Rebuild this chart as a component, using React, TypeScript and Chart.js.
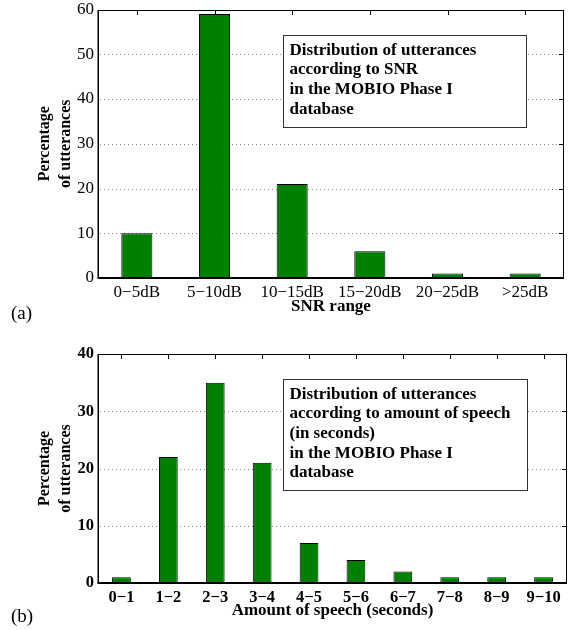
import React, { useEffect, useRef } from "react";
import { Chart, registerables } from "chart.js";

Chart.register(...registerables);

// ---------- data ----------
const snrCategories = ["0−5dB", "5−10dB", "10−15dB", "15−20dB", "20−25dB", ">25dB"];
const snrValues = [10, 59, 21, 6, 1, 1];
const snrTicks = [0, 10, 20, 30, 40, 50, 60];
const snrNote = ["Distribution of utterances", "according to SNR", "in the MOBIO Phase I", "database"];

const speechCategories = ["0−1", "1−2", "2−3", "3−4", "4−5", "5−6", "6−7", "7−8", "8−9", "9−10"];
const speechValues = [1, 22, 35, 21, 7, 4, 2, 1, 1, 1];
const speechTicks = [0, 10, 20, 30, 40];
const speechNote = [
  "Distribution of utterances",
  "according to amount of speech",
  "(in seconds)",
  "in the MOBIO Phase I",
  "database",
];

const FONT = "'Liberation Serif', 'Times New Roman', serif";
const GREEN = "#008000";

const framePlugin = {
  id: "frame",
  beforeDatasetsDraw(chart: any) {
    const { ctx, chartArea: a, scales } = chart;
    const ys = scales.y;
    const max = ys.max, min = ys.min;
    ctx.save();
    ctx.strokeStyle = "#8a8a8a";
    ctx.lineWidth = 1;
    ctx.setLineDash([1, 3]);
    ys.ticks.forEach((t: any, i: number) => {
      if (t.value === min || t.value === max) return;
      const py = Math.round(ys.getPixelForTick(i)) + 0.5;
      ctx.beginPath();
      ctx.moveTo(Math.round(a.left) + 2, py);
      ctx.lineTo(Math.round(a.right) - 1, py);
      ctx.stroke();
    });
    ctx.restore();
  },
  afterDatasetsDraw(chart: any) {
    const { ctx, chartArea: a, scales } = chart;
    const L = Math.round(a.left), R = Math.round(a.right), T = Math.round(a.top), B = Math.round(a.bottom);
    ctx.save();
    ctx.strokeStyle = "#000";
    ctx.lineWidth = 1;
    ctx.setLineDash([]);
    const xs = scales.x;
    xs.ticks.forEach((_t: any, i: number) => {
      const px = Math.round(xs.getPixelForTick(i)) + 0.5;
      ctx.beginPath();
      ctx.moveTo(px, T);
      ctx.lineTo(px, T + 5);
      ctx.stroke();
    });
    const ys = scales.y;
    ys.ticks.forEach((_t: any, i: number) => {
      const py = Math.round(ys.getPixelForTick(i)) + 0.5;
      ctx.beginPath();
      ctx.moveTo(R - 5, py);
      ctx.lineTo(R, py);
      ctx.stroke();
    });
    // frame
    ctx.beginPath();
    ctx.moveTo(L, T + 0.5);
    ctx.lineTo(R - 0.5, T + 0.5);
    ctx.lineTo(R - 0.5, B);
    ctx.stroke();
    ctx.lineWidth = 1.5;
    ctx.beginPath();
    ctx.moveTo(L + 0.25, T);
    ctx.lineTo(L + 0.25, B);
    ctx.stroke();
    ctx.lineWidth = 2;
    ctx.beginPath();
    ctx.moveTo(L - 0.5, B);
    ctx.lineTo(R, B);
    ctx.stroke();
    ctx.restore();
  },
  afterDraw(chart: any) {
    const note = chart.options.plugins.note;
    if (!note) return;
    const { ctx, chartArea: a } = chart;
    const x = Math.round(a.left + note.dx) + 0.5;
    const y = Math.round(a.top + note.dy) + 0.5;
    ctx.save();
    ctx.fillStyle = "#fff";
    ctx.fillRect(x, y, note.w, note.h);
    ctx.strokeStyle = "#333";
    ctx.lineWidth = 1;
    ctx.strokeRect(x, y, note.w, note.h);
    ctx.fillStyle = "#000";
    ctx.font = `bold 17px ${FONT}`;
    ctx.textBaseline = "middle";
    ctx.textAlign = "left";
    note.lines.forEach((ln: string, i: number) => {
      ctx.fillText(ln, x + 6, y + 15 + i * 19.6);
    });
    ctx.restore();
  },
};

type Spec = {
  labels: string[];
  values: number[];
  ticks: number[];
  note: string[];
  xTitle: string;
  bold: boolean;
  tickSize: number;
  height: number;
  padTop: number;
  padRight: number;
  padBottom: number;
  xAxisHeight: number;
  labelPad: number;
  noteBox: { dx: number; dy: number; w: number; h: number };
};

function BarPanel({ spec }: { spec: Spec }) {
  const ref = useRef<HTMLCanvasElement | null>(null);
  useEffect(() => {
    if (!ref.current) return;
    const max = spec.ticks[spec.ticks.length - 1];
    const tickFont = { family: FONT, size: spec.tickSize, weight: spec.bold ? "bold" : "normal" } as any;
    const chart = new Chart(ref.current, {
      type: "bar",
      data: {
        labels: spec.labels,
        datasets: [
          {
            data: spec.values,
            backgroundColor: GREEN,
            borderColor: "#000",
            borderWidth: 1,
            barPercentage: 0.4,
            categoryPercentage: 1,
          },
        ],
      },
      options: {
        animation: false,
        responsive: false,
        maintainAspectRatio: false,
        layout: { padding: { left: 0, right: spec.padRight, top: spec.padTop, bottom: spec.padBottom } },
        plugins: {
          legend: { display: false },
          tooltip: { enabled: false },
          note: { lines: spec.note, ...spec.noteBox },
        } as any,
        scales: {
          x: {
            grid: { display: false, drawTicks: false },
            border: { display: false },
            ticks: { color: "#000", font: tickFont, padding: spec.labelPad, maxRotation: 0, autoSkip: false },
            title: {
              display: true,
              text: spec.xTitle,
              color: "#000",
              font: { family: FONT, size: 17, weight: "bold", lineHeight: 1.2 } as any,
              padding: 0,
            },
            afterFit: (s: any) => {
              s.height = spec.xAxisHeight;
              s.paddingLeft = 0;
              s.paddingRight = 0;
            },
          },
          y: {
            min: 0,
            max,
            grid: { display: false, drawTicks: false },
            border: { display: false },
            ticks: { stepSize: 10, color: "#000", font: tickFont, padding: 4 },
            title: {
              display: true,
              text: ["Percentage", "of utterances"],
              color: "#000",
              font: { family: FONT, size: 16, weight: "bold", lineHeight: 1.3 } as any,
              padding: { top: 34.6, bottom: 0 },
            },
            afterFit: (s: any) => {
              s.width = 98;
              s.paddingTop = 0;
              s.paddingBottom = 0;
            },
          },
        },
      },
      plugins: [framePlugin],
    });
    return () => chart.destroy();
  }, [spec]);
  return <canvas ref={ref} width={570} height={spec.height} style={{ display: "block", width: 570, height: spec.height }} />;
}

const specA: Spec = {
  labels: snrCategories,
  values: snrValues,
  ticks: snrTicks,
  note: snrNote,
  xTitle: "SNR range",
  bold: false,
  tickSize: 17,
  height: 320,
  padTop: 9.5,
  padRight: 6,
  padBottom: 3,
  xAxisHeight: 39,
  labelPad: 4,
  noteBox: { dx: 185, dy: 25.5, w: 243, h: 92 },
};

const specB: Spec = {
  labels: speechCategories,
  values: speechValues,
  ticks: speechTicks,
  note: speechNote,
  xTitle: "Amount of speech (seconds)",
  bold: true,
  tickSize: 16.5,
  height: 310,
  padTop: 34,
  padRight: 3,
  padBottom: 9,
  xAxisHeight: 38,
  labelPad: 5,
  noteBox: { dx: 185, dy: 25, w: 244, h: 111 },
};

export default function App() {
  const lbl: React.CSSProperties = {
    position: "absolute",
    left: 11,
    fontFamily: FONT,
    fontSize: 19,
    lineHeight: "20px",
    color: "#000",
  };
  return (
    <div style={{ position: "absolute", left: 0, top: 0, width: 570, height: 630, background: "#fff" }}>
      <div style={{ position: "absolute", left: 0, top: 0 }}>
        <BarPanel spec={specA} />
      </div>
      <div style={{ position: "absolute", left: 0, top: 320 }}>
        <BarPanel spec={specB} />
      </div>
      <div style={{ ...lbl, top: 303 }}>(a)</div>
      <div style={{ ...lbl, top: 606 }}>(b)</div>
    </div>
  );
}
